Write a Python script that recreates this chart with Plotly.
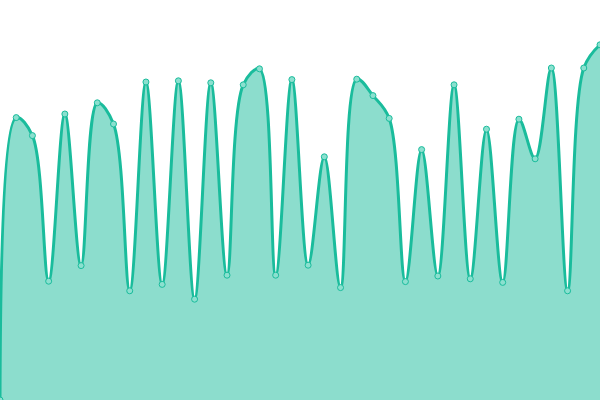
"""
Courbe lissée remplie (spline) sans axes, plein cadre
"""
import plotly.graph_objects as go

######## Données
x_vals = list(range(38))
y_vals = [0, 70.6, 66.1, 29.7, 71.5, 33.6, 74.3, 69.0, 27.3, 79.5,
          28.9, 79.8, 25.2, 79.3, 31.2, 78.8, 82.8, 31.2, 80.1, 33.7,
          60.8, 28.1, 80.2, 76.1, 70.4, 29.6, 62.6, 31.0, 78.8, 30.3,
          67.7, 29.4, 70.2, 60.3, 83.0, 27.3, 83.0, 88.8]

LINE_COLOR = '#1abc9c'
FILL_COLOR = 'rgba(26,188,156,0.5)'

######## Figure
fig = go.Figure()
fig.add_trace(go.Scatter(
    x=x_vals, y=y_vals,
    mode='lines+markers',
    line=dict(color=LINE_COLOR, width=3, shape='spline', smoothing=1),
    fill='tozeroy', fillcolor=FILL_COLOR,
    marker=dict(size=6, color='#8be0cf', line=dict(color=LINE_COLOR, width=1)),
    cliponaxis=True,
    hoverinfo='x+y'
))

fig.update_layout(
    width=600, height=400,
    margin=dict(l=0, r=0, t=0, b=0),
    paper_bgcolor='white', plot_bgcolor='white',
    showlegend=False,
    xaxis=dict(range=[0, 37], visible=False, fixedrange=True),
    yaxis=dict(range=[0, 100], visible=False, fixedrange=True),
)

# marge par défaut du <body> retirée pour que le graphe occupe toute la fenêtre
fig.write_html("out.html", config={'displayModeBar': False},
               post_script="document.body.style.margin='0';")
